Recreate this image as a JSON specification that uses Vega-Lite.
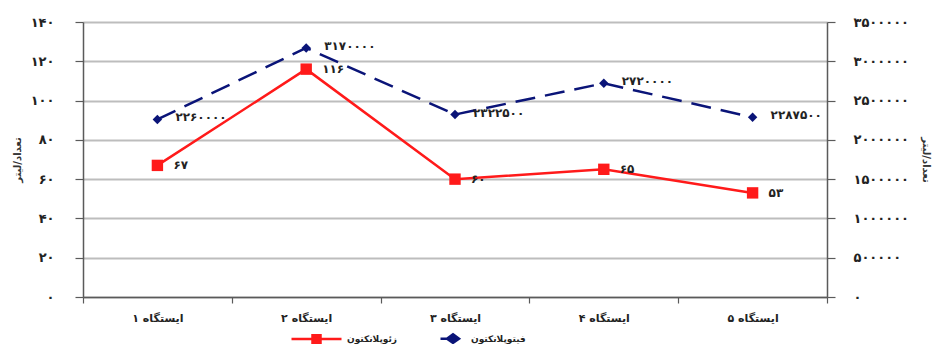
{
  "$schema": "https://vega.github.io/schema/vega-lite/v6.json",
  "width": 744,
  "height": 275,
  "autosize": {"type": "none"},
  "padding": {"left": 83, "top": 22, "right": 124, "bottom": 47},
  "background": "white",
  "data": {
    "values": [
      {"station": "۱ ایستگاه", "series": "زئوپلانکتون", "value": 67},
      {"station": "۲ ایستگاه", "series": "زئوپلانکتون", "value": 116},
      {"station": "۳ ایستگاه", "series": "زئوپلانکتون", "value": 60},
      {"station": "۴ ایستگاه", "series": "زئوپلانکتون", "value": 65},
      {"station": "۵ ایستگاه", "series": "زئوپلانکتون", "value": 53},
      {"station": "۱ ایستگاه", "series": "فیتوپلانکتون", "value": 2260000},
      {"station": "۲ ایستگاه", "series": "فیتوپلانکتون", "value": 3170000},
      {"station": "۳ ایستگاه", "series": "فیتوپلانکتون", "value": 2322500},
      {"station": "۴ ایستگاه", "series": "فیتوپلانکتون", "value": 2720000},
      {"station": "۵ ایستگاه", "series": "فیتوپلانکتون", "value": 2287500}
    ]
  },
  "config": {
    "locale": {
      "number": {
        "decimal": ".",
        "thousands": "",
        "grouping": [3],
        "currency": ["", ""],
        "numerals": ["۰", "۱", "۲", "۳", "۴", "۵", "۶", "۷", "۸", "۹"]
      }
    },
    "view": {"stroke": null},
    "font": "DejaVu Sans",
    "axis": {
      "labelFont": "DejaVu Sans",
      "labelFontWeight": "bold",
      "labelColor": "#222222",
      "titleFont": "DejaVu Sans",
      "titleFontWeight": "bold",
      "titleColor": "#333333",
      "domainColor": "#5a5a5a",
      "tickColor": "#5a5a5a",
      "domainWidth": 1.5,
      "tickWidth": 1.2
    }
  },
  "encoding": {
    "x": {
      "field": "station",
      "type": "nominal",
      "sort": null,
      "scale": {"type": "band", "paddingInner": 0, "paddingOuter": 0},
      "axis": {
        "title": null,
        "labelAngle": 0,
        "labelFontSize": 11,
        "tickBand": "extent",
        "tickSize": 6,
        "labelPadding": 9,
        "grid": false
      }
    }
  },
  "layer": [
    {
      "transform": [{"filter": "datum.series === 'زئوپلانکتون'"}],
      "encoding": {
        "y": {
          "field": "value",
          "type": "quantitative",
          "scale": {"domain": [0, 140]},
          "axis": {
            "orient": "left",
            "values": [0, 20, 40, 60, 80, 100, 120, 140],
            "format": "d",
            "grid": true,
            "gridColor": "#bdbdbd",
            "gridWidth": 2,
            "tickSize": 8,
            "labelPadding": 21,
            "labelFontSize": 13,
            "title": "تعداد/لیتر",
            "titleFontSize": 10,
            "titlePadding": 8
          }
        }
      },
      "layer": [
        {"mark": {"type": "line", "color": "#ff1a1a", "strokeWidth": 2.5}},
        {"mark": {"type": "point", "shape": "square", "filled": true, "opacity": 1, "color": "#ff1a1a", "size": 130}},
        {
          "mark": {"type": "text", "align": "left", "baseline": "middle", "dx": 16, "dy": 0, "fontSize": 12, "fontWeight": "bold", "color": "#222222", "font": "DejaVu Sans"},
          "encoding": {"text": {"field": "value", "type": "quantitative", "format": "d"}}
        }
      ]
    },
    {
      "transform": [{"filter": "datum.series === 'فیتوپلانکتون'"}],
      "encoding": {
        "y": {
          "field": "value",
          "type": "quantitative",
          "scale": {"domain": [0, 3500000]},
          "axis": {
            "orient": "right",
            "values": [0, 500000, 1000000, 1500000, 2000000, 2500000, 3000000, 3500000],
            "format": "d",
            "grid": false,
            "tickSize": 8,
            "labelPadding": 18,
            "labelFontSize": 13,
            "title": "تعداد/لیتر",
            "titleFontSize": 10,
            "titlePadding": 12
          }
        }
      },
      "layer": [
        {"mark": {"type": "line", "color": "#0a1478", "strokeWidth": 2.5, "strokeDash": [20, 10]}},
        {"mark": {"type": "point", "shape": "diamond", "filled": true, "opacity": 1, "color": "#0a1478", "size": 90}},
        {
          "mark": {"type": "text", "align": "left", "baseline": "middle", "dx": 18, "dy": -2, "fontSize": 12, "fontWeight": "bold", "color": "#222222", "font": "DejaVu Sans"},
          "encoding": {"text": {"field": "value", "type": "quantitative", "format": "d"}}
        }
      ]
    },
    {
      "mark": {"type": "point", "filled": true, "opacity": 0},
      "encoding": {
        "color": {
          "field": "series",
          "type": "nominal",
          "scale": {"domain": ["زئوپلانکتون", "فیتوپلانکتون"], "range": ["#ff1a1a", "#0a1478"]},
          "legend": {
            "orient": "none",
            "legendX": 207,
            "legendY": 290,
            "direction": "horizontal",
            "title": null,
            "symbolSize": 2500,
            "symbolStrokeWidth": 2.5,
            "symbolOpacity": 1,
            "labelFont": "DejaVu Sans",
            "labelFontSize": 9,
            "labelFontWeight": "bold",
            "labelColor": "#222222",
            "labelOffset": 4,
            "columnPadding": 16,
            "encode": {
              "symbols": {
                "update": {
                  "fill": {"signal": "scale('color', datum.value)"},
                  "stroke": {"signal": "scale('color', datum.value)"},
                  "opacity": {"value": 1}
                }
              }
            }
          }
        },
        "shape": {
          "field": "series",
          "type": "nominal",
          "scale": {
            "domain": ["زئوپلانکتون", "فیتوپلانکتون"],
            "range": ["M-1,0H1M-0.16,-0.15H0.16V0.15H-0.16Z", "M0,0H0.6M0.5,-0.17L0.74,0L0.5,0.17L0.26,0Z"]
          }
        }
      }
    }
  ],
  "resolve": {"scale": {"y": "independent"}}
}
